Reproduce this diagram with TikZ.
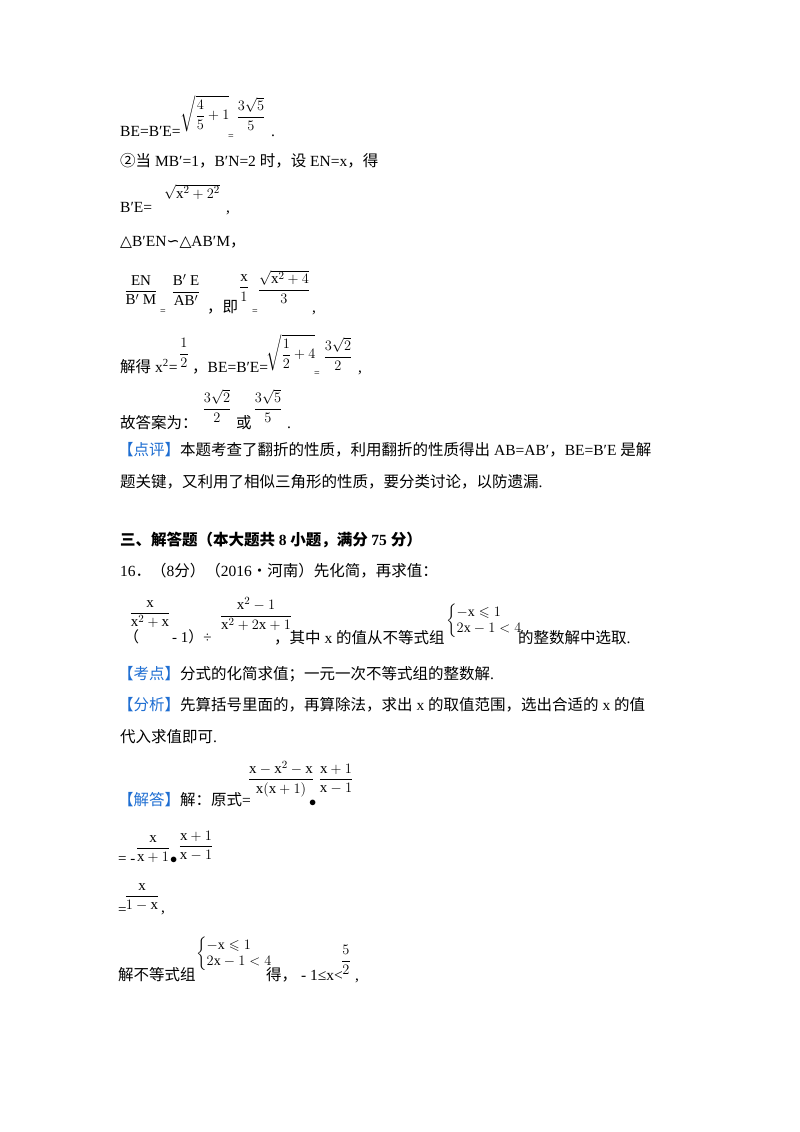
\documentclass[tikz,border=0pt]{standalone}
\usepackage{amsmath,amssymb}
\usepackage{fontspec}
\setmainfont{Liberation Serif}
\newfontfamily\cjk{Noto Sans CJK SC}
\newfontfamily\dv{DejaVu Sans}
\newcommand{\zh}[1]{{\cjk #1}}
\definecolor{lblue}{RGB}{30,110,210}
\begin{document}
\begin{tikzpicture}[x=1pt,y=-1pt,
  t/.style={anchor=base west,inner sep=0pt,font=\fontsize{15.5}{18}\selectfont},
  m/.style={anchor=base west,inner sep=0pt,font=\fontsize{15}{17}\selectfont},
  fr/.style={anchor=center,inner sep=0pt,font=\fontsize{15}{17}\selectfont},
  sys/.style={anchor=west,inner sep=0pt,font=\fontsize{14}{16}\selectfont}]
\useasboundingbox (0,0) rectangle (800,1132);
\fill[white] (0,0) rectangle (800,1132);
% line 1
\node[t] (a1) at (120,136) {BE=B′E=};
\node[fr] (a2) at (205,114) {$\sqrt{\dfrac{4}{5}+1}$};
\node[m] (a3) at (228,139) {\fontsize{10}{10}\selectfont =};
\node[fr] (a4) at (251,114) {$\dfrac{3\sqrt5}{5}$};
\node[t] (a5) at (271,136) {.};
% line 2
\node[t] (b1) at (120,166) {\zh{②当} MB′=1\zh{，}B′N=2 \zh{时，设} EN=x\zh{，得}};
% line 3
\node[t] (c1) at (120,212) {B′E=};
\node[fr] (c2) at (192,192) {$\sqrt{\mathrm{x}^{2}+2^{2}}$};
\node[t] (c3) at (226,212) {,};
% line 4
\node[t] (d1) at (120,246) {\dv △\rmfamily B′EN\dv ∽△\rmfamily AB′M\zh{，}};
% line 5
\node[fr] (e1) at (141,290) {$\dfrac{\mathrm{EN}}{\mathrm{B'\ M}}$};
\node[m] (e2) at (160,314) {\fontsize{10}{10}\selectfont =};
\node[fr] (e3) at (186,290) {$\dfrac{\mathrm{B'\ E}}{\mathrm{AB'}}$};
\node[t] (e4) at (207,312) {\zh{，即}};
\node[fr] (e5) at (244,288) {$\dfrac{\mathrm{x}}{1}$};
\node[m] (e6) at (252,314) {\fontsize{10}{10}\selectfont =};
\node[fr] (e7) at (284,287) {$\dfrac{\sqrt{\mathrm{x}^2+4}}{3}$};
\node[t] (e8) at (312,312) {,};
% line 6
\node[t] (f1) at (120,372) {\zh{解得} x\textsuperscript{2}=};
\node[fr] (f2) at (184,353) {$\dfrac{1}{2}$};
\node[t] (f3) at (192,372) {\zh{，}BE=B′E=};
\node[fr] (f4) at (291,353) {$\sqrt{\dfrac{1}{2}+4}$};
\node[m] (f5) at (314,376) {\fontsize{10}{10}\selectfont =};
\node[fr] (f6) at (338,354) {$\dfrac{3\sqrt2}{2}$};
\node[t] (f7) at (358,372) {,};
% line 7
\node[t] (g1) at (120,428) {\zh{故答案为：}};
\node[fr] (g2) at (217,406) {$\dfrac{3\sqrt2}{2}$};
\node[t] (g3) at (236,428) {\zh{或}};
\node[fr] (g4) at (268,406) {$\dfrac{3\sqrt5}{5}$};
\node[t] (g5) at (287,428) {.};
% dianping
\node[t] (h1) at (118,455) {\textcolor{lblue}{\zh{【点评】}}\zh{本题考查了翻折的性质，利用翻折的性质得出} AB=AB′\zh{，}BE=B′E \zh{是解}};
\node[t] (h2) at (120,487) {\zh{题关键，又利用了相似三角形的性质，要分类讨论，以防遗漏}.};
% section
\node[t] (i1) at (120,545) {\cjk\bfseries 三、解答题（本大题共 \rmfamily 8 \cjk 小题，满分 \rmfamily 75 \cjk 分）};
\node[t] (j1) at (120,576) {16\zh{．（}8\zh{分）（}2016\zh{•河南）先化简，再求值：}};
% expression
\node[fr] (k1) at (150,614) {$\dfrac{\mathrm{x}}{\mathrm{x}^2+\mathrm{x}}$};
\node[m] (k0) at (124,642) {\zh{（}};
\node[m] (k2) at (172,642) {- 1\zh{）}÷};
\node[fr] (k3) at (256,614) {$\dfrac{\mathrm{x}^2-1}{\mathrm{x}^2+2\mathrm{x}+1}$};
\node[t] (k4) at (274,643) {\zh{，其中} x \zh{的值从不等式组}};
\node[sys] (k5) at (446,621) {$\left\{\begin{array}{@{}l@{}}-\mathrm{x}\leqslant1\\ 2\mathrm{x}-1<4\end{array}\right.$};
\node[t] (k6) at (518,643) {\zh{的整数解中选取}.};
% kaodian
\node[t] (l1) at (118,679) {\textcolor{lblue}{\zh{【考点】}}\zh{分式的化简求值；一元一次不等式组的整数解}.};
\node[t] (l2) at (118,710) {\textcolor{lblue}{\zh{【分析】}}\zh{先算括号里面的，再算除法，求出} x \zh{的取值范围，选出合适的} x \zh{的值}};
\node[t] (l3) at (120,742) {\zh{代入求值即可}.};
% jieda
\node[t] (m1) at (118,805) {\textcolor{lblue}{\zh{【解答】}}\zh{解：原式}=};
\node[fr] (m2) at (281,779) {$\dfrac{\mathrm{x}-\mathrm{x}^2-\mathrm{x}}{\mathrm{x}(\mathrm{x}+1)}$};
\node[m] (m3) at (309,806) {$\bullet$};
\node[fr] (m4) at (336,779) {$\dfrac{\mathrm{x}+1}{\mathrm{x}-1}$};
\node[m] (n1) at (118,863) {= -};
\node[fr] (n2) at (153,849) {$\dfrac{\mathrm{x}}{\mathrm{x}+1}$};
\node[m] (n3) at (170,863) {$\bullet$};
\node[fr] (n4) at (196,846) {$\dfrac{\mathrm{x}+1}{\mathrm{x}-1}$};
\node[m] (o1) at (118,914) {=};
\node[fr] (o2) at (142,897) {$\dfrac{\mathrm{x}}{1-\mathrm{x}}$};
\node[t] (o3) at (161,912) {,};
\node[t] (p1) at (118,980) {\zh{解不等式组}};
\node[sys] (p2) at (196,954) {$\left\{\begin{array}{@{}l@{}}-\mathrm{x}\leqslant1\\ 2\mathrm{x}-1<4\end{array}\right.$};
\node[t] (p3) at (266,980) {\zh{得，} - 1≤x<};
\node[fr] (p4) at (346,960) {$\dfrac{5}{2}$};
\node[t] (p5) at (355,980) {,};
\end{tikzpicture}
\end{document}
